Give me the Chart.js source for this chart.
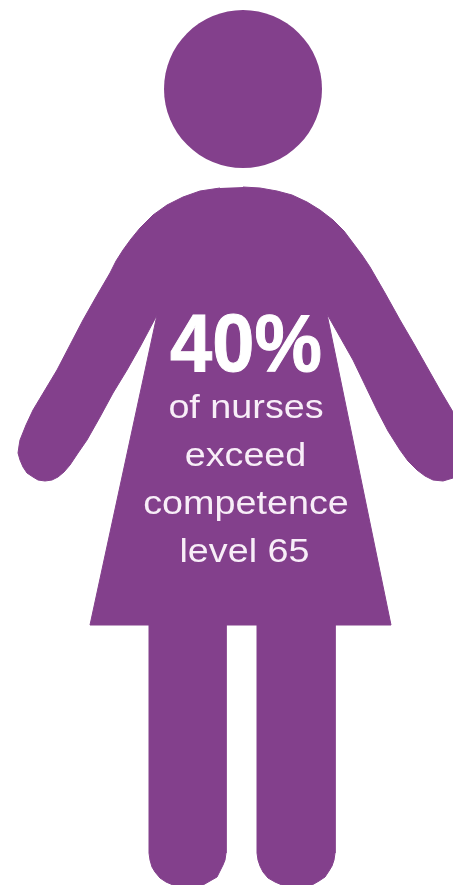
<!DOCTYPE html>
<html lang="en">
<head>
    <meta charset="UTF-8">
    <title>40% of nurses exceed competence level 65</title>
    <script src="https://cdn.jsdelivr.net/npm/chart.js"></script>
    <style>
        html, body {
            margin: 0;
            padding: 0;
            background-color: #fff;
            overflow: hidden;
        }
        canvas {
            display: block;
        }
    </style>
</head>
<body>
    <canvas id="figure" width="453" height="885"></canvas>
    <script>
        const percent = [40];
        const captionLines = ['of nurses', 'exceed', 'competence', 'level 65'];

        // outline of the figure (clockwise from top of shoulders)
        const headX = [243];
        const headY = [89];
        const bodyX = [
            243, 260, 277, 292, 307, 320, 333, 344, 353, 362, 370, 385, 400, 414, 427, 440, 453, // right shoulder, outer arm
            453, 443, 433, 425, 417, 408, 400, 388, 377, 365, 353, 340, 327,                     // right hand, inner arm
            391, 335,                                                                            // skirt
            335, 334, 332, 329, 325, 319, 312, 282, 275, 268, 263, 260, 258, 257, 257,           // right leg
            226, 226, 225, 223, 220, 217, 210, 203, 173, 166, 160, 155, 152, 150, 149, 149,      // left leg
            90, 157,                                                                             // skirt
            148, 140, 127, 113, 100, 87, 78, 70, 64, 58, 52, 45, 38, 33, 27, 23, 20, 18, 19, 20, // left inner arm, hand
            26, 33, 45, 57, 70, 83, 96, 110, 116, 123, 131, 140, 153, 167, 183, 200, 220         // left outer arm, shoulder
        ];
        const bodyY = [
            187, 188, 191, 195, 202, 210, 220, 231, 243, 255, 267, 293, 320, 344, 367, 390, 412,
            478, 481, 480, 476, 470, 461, 450, 431, 410, 385, 360, 337, 314,
            625, 625,
            853, 860, 866, 871, 877, 881, 885, 885, 882, 878, 872, 866, 860, 853, 625,
            625, 853, 860, 865, 871, 877, 881, 885, 885, 882, 878, 872, 867, 860, 853, 625,
            625, 315,
            332, 347, 370, 393, 417, 440, 453, 465, 472, 477, 480, 481, 480, 477, 473, 467, 460, 453, 446, 440,
            425, 410, 390, 370, 345, 320, 297, 273, 261, 250, 239, 228, 215, 205, 197, 191, 188
        ];

        const purple = '#83408c';

        const textPlugin = {
            id: 'figureText',
            afterDatasetsDraw(chart) {
                const { ctx, scales: { x, y } } = chart;
                const stretched = (text, cx, base, sx, stroke) => {
                    ctx.save();
                    ctx.translate(x.getPixelForValue(cx), y.getPixelForValue(base));
                    ctx.scale(sx, 1);
                    if (stroke) {
                        ctx.strokeStyle = ctx.fillStyle;
                        ctx.lineWidth = stroke;
                        ctx.strokeText(text, 0, 0);
                    }
                    ctx.fillText(text, 0, 0);
                    ctx.restore();
                };
                ctx.save();
                ctx.textAlign = 'center';
                ctx.textBaseline = 'alphabetic';
                ctx.fillStyle = '#ffffff';
                ctx.font = 'bold 82px "Liberation Sans"';
                stretched(percent[0] + '%', 246, 371, 0.925, 1);
                ctx.fillStyle = '#f8eef8';
                ctx.font = '34px "Liberation Sans"';
                const baselines = [418, 466, 514, 562];
                const centers = [246, 245.5, 246, 244.5];
                captionLines.forEach((line, i) => {
                    stretched(line, centers[i], baselines[i], 1.11, 0);
                });
                ctx.restore();
            }
        };

        new Chart(document.getElementById('figure').getContext('2d'), {
            type: 'scatter',
            data: {
                datasets: [
                    {
                        label: 'head',
                        data: headX.map((v, i) => ({ x: v, y: headY[i] })),
                        pointRadius: 79,
                        pointBackgroundColor: purple,
                        pointBorderWidth: 0
                    },
                    {
                        label: 'body',
                        data: bodyX.map((v, i) => ({ x: v, y: bodyY[i] })),
                        showLine: true,
                        fill: 'shape',
                        backgroundColor: purple,
                        borderColor: purple,
                        borderWidth: 1,
                        pointRadius: 0,
                        tension: 0
                    }
                ]
            },
            options: {
                responsive: false,
                animation: false,
                layout: { padding: 0, autoPadding: false },
                plugins: {
                    legend: { display: false },
                    tooltip: { enabled: false }
                },
                scales: {
                    x: { type: 'linear', min: 0, max: 453, display: false },
                    y: { type: 'linear', min: 0, max: 885, reverse: true, display: false }
                }
            },
            plugins: [textPlugin]
        });
    </script>
</body>
</html>
